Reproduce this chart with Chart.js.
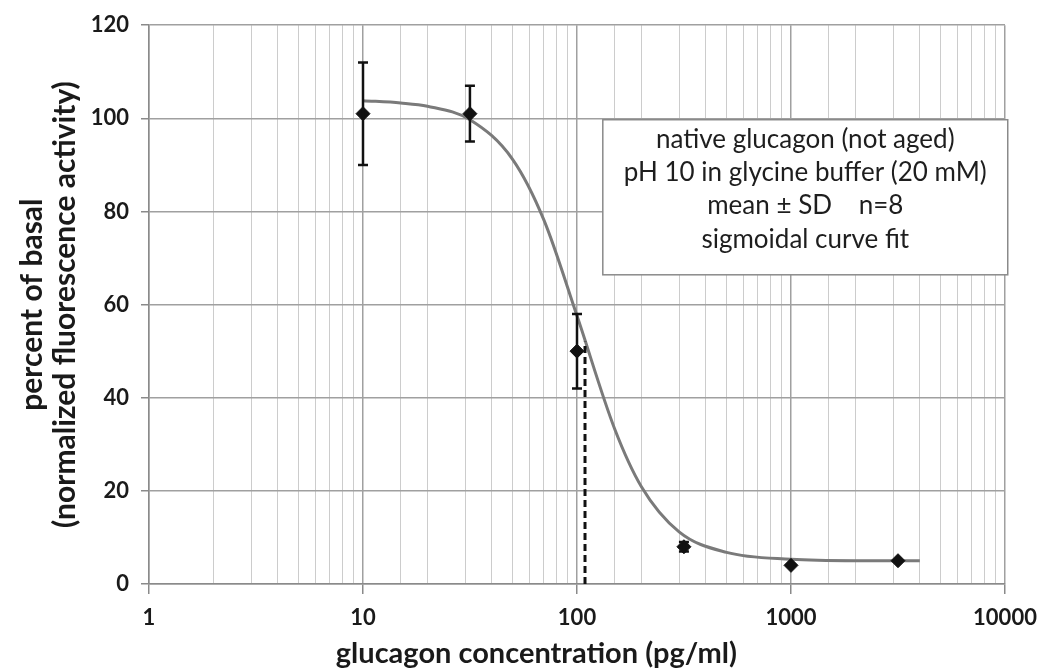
<!DOCTYPE html>
<html><head><meta charset="utf-8">
<script src="https://cdn.jsdelivr.net/npm/chart.js@4/dist/chart.umd.min.js"></script>
<style>html,body{margin:0;padding:0;background:#fff}canvas{display:block}</style>
</head><body>
<canvas id="c" width="1050" height="672"></canvas>
<script>
// Measured data (mean ± SD)
const concX = [10, 31.6, 100, 316, 1000, 3162];
const meanY = [101, 101, 50, 8, 4, 5];
const sdY   = [11, 6, 8, 1, 0, 0];
// Sigmoidal fit curve
const curveX = [10, 15, 20, 31.6, 50, 70, 100, 150, 200, 300, 500, 1000, 2000, 4000];
const curveY = [103.8, 103.3, 102.6, 99.7, 91.2, 78.2, 57.6, 33.3, 20.9, 11.2, 6.8, 5.3, 5.0, 5.0];
// EC50 marker
const ec50X = [109, 109];
const ec50Y = [0, 52];
// Axis ticks
const xMajorTicks = [1, 10, 100, 1000, 10000];
const yTicks = [0, 20, 40, 60, 80, 100, 120];
// Text
const xTitle = 'glucagon concentration (pg/ml)';
const yTitle = ['percent of basal', '(normalized fluorescence activity)'];
const noteLines = ['native glucagon (not aged)', 'pH 10 in glycine buffer (20 mM)', 'mean ± SD    n=8', 'sigmoidal curve fit'];

const FONT = 'Lato, "Open Sans", sans-serif';
const isMajor = v => xMajorTicks.some(m => Math.abs(m - v) < 1e-6 * m);

const errorBars = {
  id: 'errorBars',
  afterDatasetsDraw(chart) {
    const {ctx, scales: {x, y}} = chart;
    ctx.save();
    ctx.strokeStyle = '#111';
    ctx.lineWidth = 2.5;
    concX.forEach((cx, i) => {
      if (!sdY[i]) return;
      const px = x.getPixelForValue(cx);
      const top = y.getPixelForValue(meanY[i] + sdY[i]);
      const bot = y.getPixelForValue(meanY[i] - sdY[i]);
      ctx.beginPath();
      ctx.moveTo(px, top); ctx.lineTo(px, bot);
      ctx.moveTo(px - 5, top); ctx.lineTo(px + 5, top);
      ctx.moveTo(px - 5, bot); ctx.lineTo(px + 5, bot);
      ctx.stroke();
    });
    ctx.restore();
  }
};

const noteBox = {
  id: 'noteBox',
  beforeDatasetsDraw(chart) {
    const {ctx, scales: {x, y}} = chart;
    const left = x.getPixelForValue(132), right = x.getPixelForValue(10300);
    const top = y.getPixelForValue(99.7), bottom = y.getPixelForValue(66.4);
    ctx.save();
    ctx.fillStyle = '#fff';
    ctx.fillRect(left, top, right - left, bottom - top);
    ctx.strokeStyle = '#8a8a8a';
    ctx.lineWidth = 1.5;
    ctx.strokeRect(left, top, right - left, bottom - top);
    ctx.fillStyle = '#1e1e1e';
    ctx.font = '26px ' + FONT;
    ctx.textAlign = 'center';
    ctx.textBaseline = 'middle';
    const cx = (left + right) / 2;
    noteLines.forEach((t, i) => ctx.fillText(t, cx, top + 19.5 + i * 33.4));
    ctx.restore();
  }
};

const xTitlePlugin = {
  id: 'xTitlePlugin',
  afterDraw(chart) {
    const {ctx, scales: {x}} = chart;
    ctx.save();
    ctx.fillStyle = '#1a1a1a';
    ctx.font = 'bold 29px ' + FONT;
    ctx.textAlign = 'center';
    ctx.textBaseline = 'middle';
    ctx.fillText(xTitle, x.getPixelForValue(10 ** 1.81), 654);
    ctx.restore();
  }
};

new Chart(document.getElementById('c'), {
  type: 'scatter',
  data: {
    datasets: [
      {
        label: 'fit',
        data: curveX.map((v, i) => ({x: v, y: curveY[i]})),
        showLine: true, borderColor: '#7a7a7a', borderWidth: 3,
        pointRadius: 0, cubicInterpolationMode: 'monotone', order: 3
      },
      {
        label: 'EC50',
        data: ec50X.map((v, i) => ({x: v, y: ec50Y[i]})),
        showLine: true, borderColor: '#111', borderWidth: 3, borderDash: [7, 4],
        pointRadius: 0, order: 2
      },
      {
        label: 'mean',
        data: concX.map((v, i) => ({x: v, y: meanY[i]})),
        showLine: false, pointStyle: 'rectRot', pointRadius: 7,
        backgroundColor: '#111', borderColor: '#111', order: 1
      }
    ]
  },
  options: {
    responsive: false,
    animation: false,
    layout: {padding: {left: 0, right: 45, top: 14, bottom: 0}},
    plugins: {legend: {display: false}, tooltip: {enabled: false}},
    scales: {
      x: {
        type: 'logarithmic', min: 1, max: 10000,
        afterFit(s) { s.height = 88; },
        border: {color: '#8a8a8a', width: 1.5},
        grid: {
          color: c => isMajor(c.tick.value) ? '#a0a0a0' : '#cccccc',
          lineWidth: c => isMajor(c.tick.value) ? 1.5 : 1,
          tickColor: c => isMajor(c.tick.value) ? '#8a8a8a' : 'rgba(0,0,0,0)',
          tickLength: 10
        },
        ticks: {
          autoSkip: false, maxRotation: 0, padding: 11,
          color: '#1a1a1a', font: {family: FONT, size: 22, weight: 'bold'},
          callback: v => isMajor(v) ? String(v) : ''
        },
        title: {display: false}
      },
      y: {
        min: 0, max: 120,
        afterFit(s) { s.width = 149; },
        afterBuildTicks(s) { s.ticks = yTicks.map(v => ({value: v})); },
        border: {color: '#8a8a8a', width: 1.5},
        grid: {color: '#a0a0a0', lineWidth: 1.5, tickColor: '#8a8a8a', tickLength: 8},
        ticks: {
          padding: 12, color: '#1a1a1a',
          font: {family: FONT, size: 22, weight: 'bold'}
        },
        title: {
          display: true, text: yTitle,
          color: '#1a1a1a', font: {family: FONT, size: 30, weight: 'bold', lineHeight: 1.1},
          padding: {top: 16, bottom: 0}
        }
      }
    }
  },
  plugins: [noteBox, errorBars, xTitlePlugin]
});
</script>
</body></html>
